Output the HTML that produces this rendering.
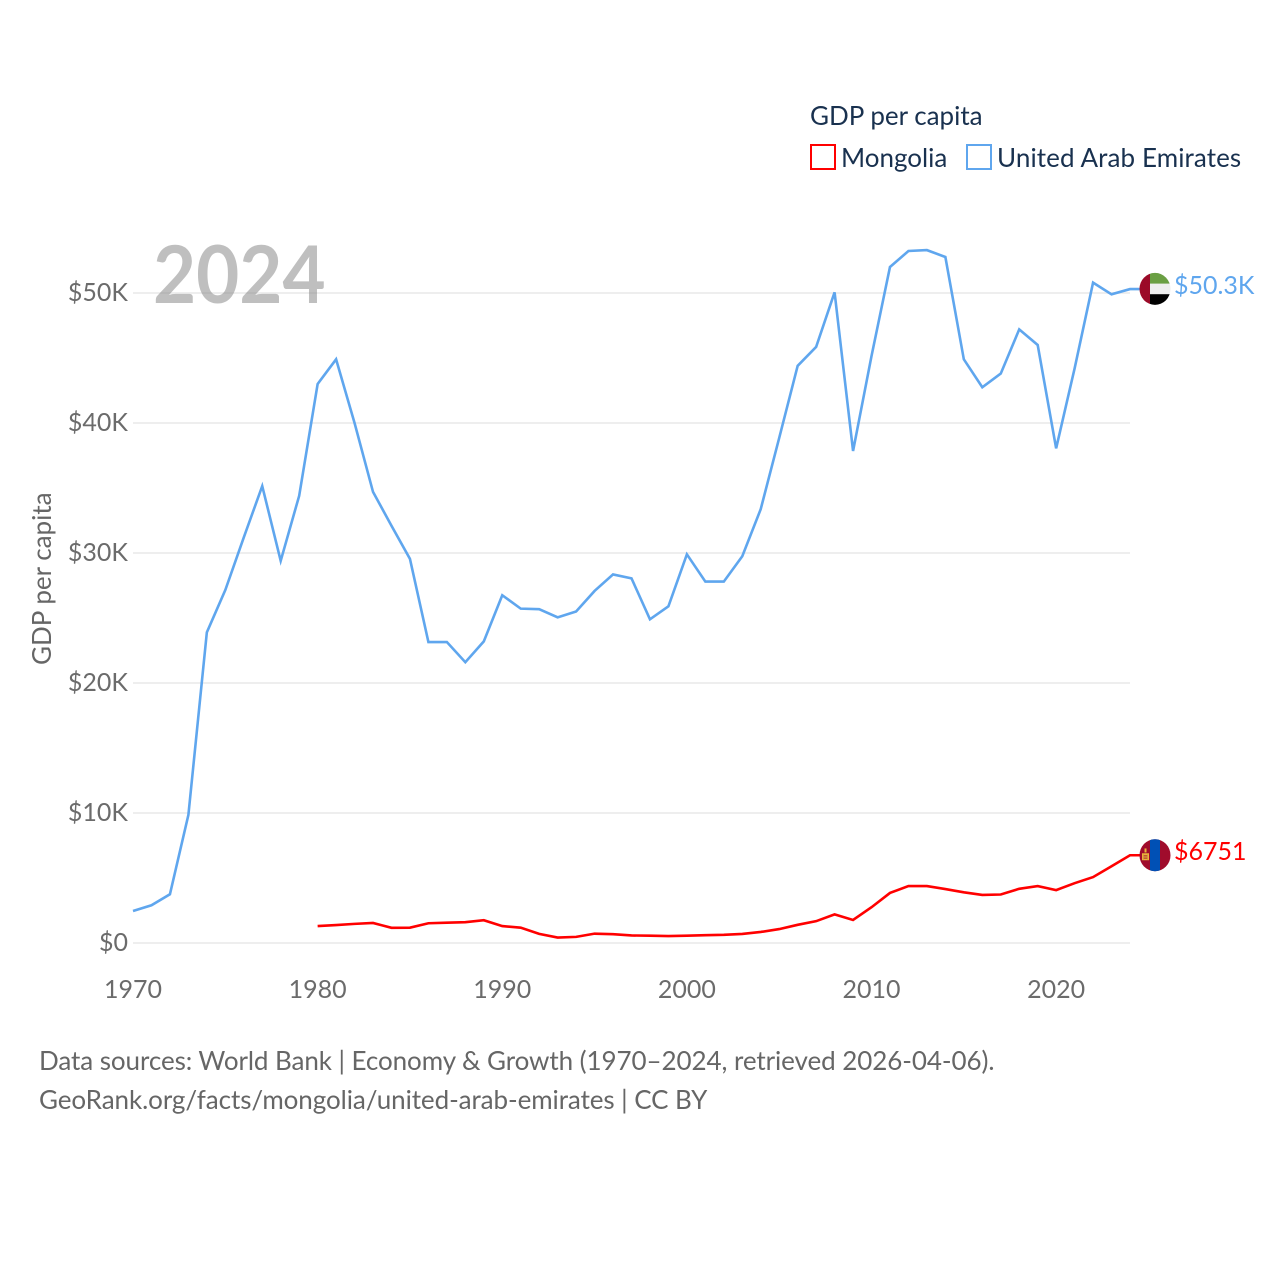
<!DOCTYPE html>
<html lang="en">
<head>
<meta charset="utf-8">
<title>GDP per capita: Mongolia and United Arab Emirates</title>
<style>
html,body{margin:0;padding:0;background:#fff;width:1280px;height:1280px;overflow:hidden}
#stage{position:relative;width:1280px;height:1280px}
svg{display:block;position:absolute;left:0;top:0}
.t{position:absolute;white-space:nowrap;line-height:30px;height:30px;font-family:"Lato","Carlito","Liberation Sans",sans-serif}
.tick{font-size:25px;color:#6b6b6b}
.legend{font-size:26px;color:#19314f}
.foot{font-size:26px;color:#666;letter-spacing:-.075px}
</style>
</head>
<body>
<div id="stage">
<svg id="chart" xmlns="http://www.w3.org/2000/svg" width="1280" height="1280" viewBox="0 0 1280 1280">
  <defs>
    <clipPath id="clip-uae"><ellipse cx="0" cy="0" rx="15.5" ry="16"></ellipse></clipPath>
    <clipPath id="clip-mng"><ellipse cx="0" cy="0" rx="15.5" ry="16"></ellipse></clipPath>
  </defs>
  <g id="grid"></g>
  <g id="series"></g>

  <g>
    <rect x="811" y="145" width="24" height="24" fill="#fff" stroke="#ff0000" stroke-width="2"></rect>
  </g>
  <g>
    <rect x="967" y="145" width="24" height="24" fill="#fff" stroke="#5fa6ee" stroke-width="2"></rect>
  </g>

  <g id="flag-uae">
    <g clip-path="url(#clip-uae)">
      <rect x="-16" y="-17" width="32" height="34" fill="#eeeeee"></rect>
      <rect x="-5" y="-17" width="21" height="11.700" fill="#6a9f43"></rect>
      <rect x="-5" y="5.300" width="21" height="11.700" fill="#000000"></rect>
      <rect x="-16" y="-17" width="11" height="34" fill="#9b0a28"></rect>
    </g>
  </g>
  <g id="flag-mng">
    <g clip-path="url(#clip-mng)">
      <rect x="-16" y="-17" width="32" height="34" fill="#a00c2c"></rect>
      <rect x="-5" y="-17" width="10" height="34" fill="#0050b5"></rect>
      <rect x="-13" y="-2" width="1.600" height="7" fill="#e8b53c"></rect>
      <rect x="-7.600" y="-2" width="1.600" height="7" fill="#e8b53c"></rect>
      <rect x="-11.400" y="-2" width="3.800" height="2.200" fill="#e8b53c"></rect>
      <rect x="-11.400" y="1" width="3.800" height="1.500" fill="#d9a441"></rect>
      <rect x="-11.400" y="3.300" width="3.800" height="1.700" fill="#e8b53c"></rect>
      <rect x="-10.500" y="-6.800" width="2" height="4" fill="#e8b53c"></rect>
    </g>
  </g>
</svg>

<div id="yticks"></div>
<div id="xticks"></div>

<div class="t" style="left:153px;top:228px;height:90px;line-height:90px;font-size:80px;font-weight:700;color:rgba(128,128,128,.5);transform-origin:0 0;transform:scaleX(.93)">2024</div>
<div class="t" style="left:51px;top:665px;font-size:26px;color:#666;transform-origin:0 0;transform:rotate(-90deg) translateY(-25px)">GDP per capita</div>

<div class="t legend" style="left:810px;top:100px">GDP per capita</div>
<div class="t legend" style="left:841px;top:142px">Mongolia</div>
<div class="t legend" style="left:997px;top:142px;letter-spacing:.1px">United Arab Emirates</div>

<div id="label-uae" class="t" style="left:1174px;font-size:25px;color:#5fa6ee"></div>
<div id="label-mng" class="t" style="left:1174px;font-size:25px;color:#ff0000"></div>

<div class="t foot" style="left:39px;top:1045px">Data sources: World Bank | Economy &amp; Growth (1970–2024, retrieved 2026-04-06).</div>
<div class="t foot" style="left:39px;top:1084px">GeoRank.org/facts/mongolia/united-arab-emirates | CC BY</div>
</div>
<script>
const uaeStartYear = 1970;
const uaeValues = [2.46,2.9,3.75,9.85,23.9,27.15,31.2,35.15,29.4,34.4,43.0,44.9,40.0,34.7,32.1,29.55,23.15,23.15,21.6,23.2,26.75,25.72,25.68,25.05,25.5,27.08,28.35,28.05,24.9,25.9,29.9,27.8,27.8,29.75,33.38,38.85,44.4,45.85,50.05,37.85,45.15,52.0,53.23,53.3,52.77,44.9,42.75,43.8,47.2,46.0,38.05,44.2,50.8,49.9,50.3];
const mongoliaStartYear = 1980;
const mongoliaValues = [1.3,1.38,1.47,1.54,1.17,1.18,1.52,1.56,1.6,1.75,1.3,1.18,0.7,0.42,0.47,0.72,0.68,0.58,0.56,0.53,0.56,0.6,0.63,0.7,0.85,1.07,1.4,1.68,2.2,1.77,2.75,3.85,4.38,4.38,4.15,3.9,3.7,3.73,4.17,4.38,4.07,4.6,5.07,5.9,6.751];
const yTicks = [0,10,20,30,40,50];
const yTickLabels = ["$0","$10K","$20K","$30K","$40K","$50K"];
const xTicks = [1970,1980,1990,2000,2010,2020];
const uaeEndLabel = "$50.3K";
const mongoliaEndLabel = "$6751";

const NS = "http://www.w3.org/2000/svg";
const xScale = function (year) { return 133 + (year - 1970) * (1130 - 133) / 54; };
const yScale = function (k) { return 943 - k * 13; };

const gridG = document.getElementById("grid");
const yG = document.getElementById("yticks");
const xG = document.getElementById("xticks");
const seriesG = document.getElementById("series");

yTicks.forEach(function (v, i) {
  const line = document.createElementNS(NS, "line");
  
  
  line.setAttribute("x1", 133);
  line.setAttribute("x2", 1130);
  line.setAttribute("y1", yScale(v));
  line.setAttribute("y2", yScale(v));
  line.setAttribute("stroke", "#eeeeee");
  line.setAttribute("stroke-width", 2);
  gridG.appendChild(line);

  const t = document.createElement("div");
  
  
  t.className = "t tick";
  t.style.right = (1280 - 128) + "px";
  t.style.top = Math.round(yScale(v) - 16) + "px";
  t.textContent = yTickLabels[i];
  yG.appendChild(t);
});

xTicks.forEach(function (year) {
  const t = document.createElement("div");
  
  
  t.className = "t tick";
  t.style.left = (xScale(year) - 50) + "px";
  t.style.width = "100px";
  t.style.textAlign = "center";
  t.style.top = "974px";
  t.textContent = String(year);
  xG.appendChild(t);
});

function buildPoints(startYear, values) {
  return values.map(function (v, i) {
    return xScale(startYear + i).toFixed(2) + "," + yScale(v).toFixed(2);
  });
}

const uaePts = buildPoints(uaeStartYear, uaeValues);
const uaeLast = yScale(uaeValues[uaeValues.length - 1]);
const uaeLine = document.createElementNS(NS, "polyline");


uaeLine.setAttribute("points", uaePts.join(" ") + " 1140," + uaeLast.toFixed(2));
uaeLine.setAttribute("fill", "none");
uaeLine.setAttribute("stroke", "#5fa6ee");
uaeLine.setAttribute("stroke-width", 2.6);
seriesG.appendChild(uaeLine);

const mngPts = buildPoints(mongoliaStartYear, mongoliaValues);
const mngLast = yScale(mongoliaValues[mongoliaValues.length - 1]);
const mngLine = document.createElementNS(NS, "polyline");


mngLine.setAttribute("points", mngPts.join(" ") + " 1140," + mngLast.toFixed(2));
mngLine.setAttribute("fill", "none");
mngLine.setAttribute("stroke", "#ff0000");
mngLine.setAttribute("stroke-width", 2.6);
seriesG.appendChild(mngLine);

document.getElementById("flag-uae").setAttribute("transform", "translate(1155," + (uaeLast - 0.2).toFixed(2) + ")");
document.getElementById("flag-mng").setAttribute("transform", "translate(1155," + mngLast.toFixed(2) + ")");

const labelUae = document.getElementById("label-uae");
labelUae.style.top = Math.round(uaeLast - 19) + "px";
labelUae.textContent = uaeEndLabel;
const labelMng = document.getElementById("label-mng");
labelMng.style.top = Math.round(mngLast - 19) + "px";
labelMng.textContent = mongoliaEndLabel;
</script>
</body>
</html>
